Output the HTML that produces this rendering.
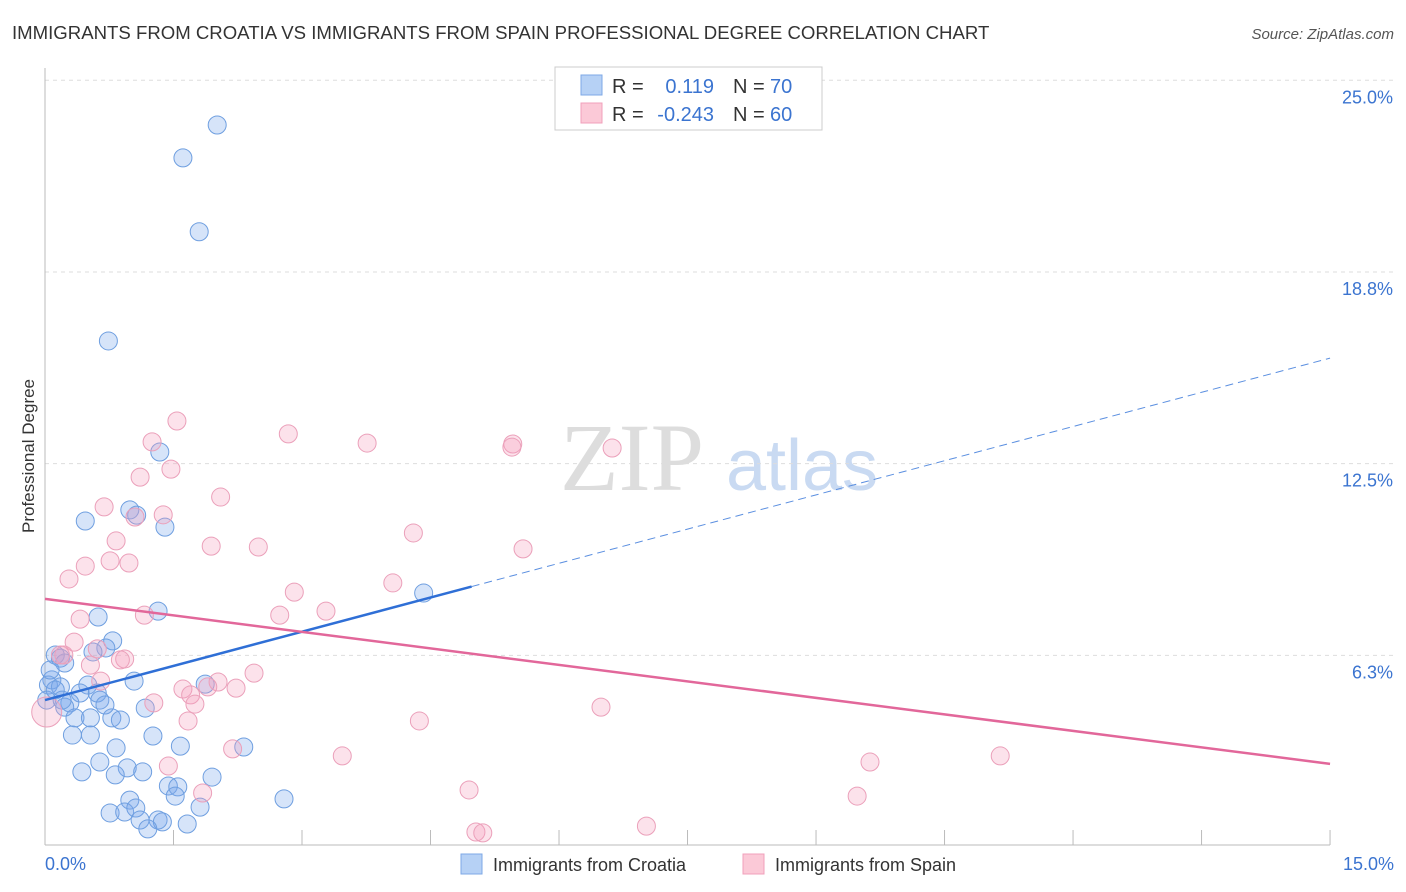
<!DOCTYPE html>
<html><head><meta charset="utf-8">
<style>
body{margin:0;background:#fff;font-family:"Liberation Sans",sans-serif;}
svg{display:block}
</style></head>
<body>
<svg id="chart" width="1406" height="892" xmlns="http://www.w3.org/2000/svg">
<text x="12" y="39" font-size="18.6" fill="#333">IMMIGRANTS FROM CROATIA VS IMMIGRANTS FROM SPAIN PROFESSIONAL DEGREE CORRELATION CHART</text>
<text x="1394" y="39" font-size="15" fill="#555" font-style="italic" text-anchor="end">Source: ZipAtlas.com</text>
<text x="34" y="456" font-size="17" fill="#333" text-anchor="middle" transform="rotate(-90 34 456)">Professional Degree</text>
<g>
<text x="632" y="490" font-size="96" font-family="Liberation Serif,serif" fill="#ddd" text-anchor="middle">ZIP</text>
<text x="802" y="490" font-size="72" fill="#c9daf2" text-anchor="middle">atlas</text>
</g>
<g id="grid"></g>
<g id="axes"></g>
<g id="marks"></g>
<g>
<rect x="555" y="67" width="267" height="63" fill="#fff" stroke="#ccc"/>
<rect x="581" y="75" width="21" height="20" fill="#b6d1f5" stroke="#7ea8e6"/>
<rect x="581" y="103" width="21" height="20" fill="#fbc9d7" stroke="#f0a0bb"/>
<text x="612" y="93" font-size="20" fill="#333">R =</text>
<text x="714" y="93" font-size="20" fill="#3b74d0" text-anchor="end">0.119</text>
<text x="733" y="93" font-size="20" fill="#333">N =</text>
<text x="770" y="93" font-size="20" fill="#3b74d0">70</text>
<text x="612" y="121" font-size="20" fill="#333">R =</text>
<text x="714" y="121" font-size="20" fill="#3b74d0" text-anchor="end">-0.243</text>
<text x="733" y="121" font-size="20" fill="#333">N =</text>
<text x="770" y="121" font-size="20" fill="#3b74d0">60</text>
</g>
<g>
<rect x="461" y="854" width="21" height="20" fill="#b6d1f5" stroke="#7ea8e6"/>
<text x="493" y="871" font-size="18" fill="#333">Immigrants from Croatia</text>
<rect x="743" y="854" width="21" height="20" fill="#fbc9d7" stroke="#f0a0bb"/>
<text x="775" y="871" font-size="18" fill="#333">Immigrants from Spain</text>
</g>
</svg>
<script>
const yTicks=[6.25,12.5,18.75,25];
const yTickLabels=["6.3%","12.5%","18.8%","25.0%"];
const xTicks=[0,1.5,3,4.5,6,7.5,9,10.5,12,13.5,15];
const blueX=[2.01,1.61,1.80,0.74,1.34,0.47,0.99,1.07,1.40,4.42,1.32,0.62,0.79,0.71,0.56,0.12,0.18,0.23,0.08,1.04,0.04,0.18,0.50,1.87,0.41,0.61,0.64,0.29,0.23,1.17,0.35,0.53,0.78,0.88,0.32,0.53,1.26,1.58,2.32,0.83,0.64,0.96,0.43,1.14,0.82,1.95,1.44,1.55,1.52,0.99,2.79,1.81,0.76,0.93,1.06,1.11,1.32,1.37,1.20,1.66,0.06,0.02,0.12,0.20,0.70];
const blueY=[23.54,22.47,20.06,16.50,12.88,10.63,10.99,10.82,10.43,8.28,7.69,7.50,6.72,6.49,6.36,6.26,6.16,6.00,5.45,5.41,5.28,5.22,5.28,5.31,5.02,5.02,4.79,4.70,4.56,4.53,4.21,4.21,4.21,4.14,3.65,3.65,3.62,3.29,3.26,3.23,2.77,2.58,2.45,2.45,2.35,2.28,1.99,1.96,1.66,1.53,1.57,1.30,1.11,1.14,1.27,0.88,0.88,0.82,0.59,0.75,5.77,4.79,5.12,4.79,4.63];
const pinkX=[1.54,2.84,3.76,1.25,5.46,5.45,6.62,1.47,1.11,2.05,0.69,1.38,1.05,4.30,0.83,1.94,2.49,5.58,0.47,0.76,0.98,0.28,2.91,4.06,2.74,3.28,1.16,0.41,0.34,0.61,0.22,0.93,0.88,0.53,2.44,0.65,2.02,1.61,1.70,2.23,1.90,1.27,1.75,6.49,0.02,1.67,4.37,2.19,3.47,1.44,9.63,11.15,1.84,4.95,9.48,5.03,5.11,7.02,0.18];
const pinkY=[13.89,13.47,13.17,13.21,13.14,13.04,13.01,12.32,12.06,11.41,11.09,10.83,10.76,10.24,9.98,9.81,9.78,9.72,9.16,9.33,9.26,8.74,8.31,8.61,7.56,7.69,7.56,7.43,6.68,6.46,6.26,6.13,6.10,5.93,5.67,5.41,5.38,5.15,4.96,5.18,5.22,4.70,4.66,4.56,4.40,4.11,4.11,3.20,2.97,2.64,2.77,2.97,1.76,1.86,1.66,0.49,0.46,0.68,6.26];
const blueTrend=[4.79,15.94];
const blueSolidEnd=4.98;
const pinkTrend=[8.09,2.71];

const NS="http://www.w3.org/2000/svg";
const X=v=>45+v*85.67;
const Y=v=>847-v*30.67;
function mk(parent,tag,attrs){const e=document.createElementNS(NS,tag);for(const k in attrs)e.setAttribute(k,attrs[k]);document.getElementById(parent).appendChild(e);return e;}
yTicks.forEach((t,i)=>{
  const l=mk('grid','line',{x1:45,x2:1394,y1:Y(t),y2:Y(t),stroke:'#ddd','stroke-dasharray':'4,4'});
  
  
  const tx=mk('grid','text',{x:1393,y:Y(t)+23,'font-size':18,fill:'#3b74d0','text-anchor':'end'});
  tx.textContent=yTickLabels[i];
  
  
});
const ya=mk('axes','line',{x1:45,x2:45,y1:68,y2:845,stroke:'#bbb'});


const xa=mk('axes','line',{x1:45,x2:1330,y1:845,y2:845,stroke:'#bbb'});


xTicks.forEach(t=>{
  const l=mk('axes','line',{x1:X(t),x2:X(t),y1:830,y2:845,stroke:'#bbb'});
  
  
});
const xl0=mk('axes','text',{x:45,y:870,'font-size':18,fill:'#3b74d0'});xl0.textContent='0.0%';


const xl1=mk('axes','text',{x:1394,y:870,'font-size':18,fill:'#3b74d0','text-anchor':'end'});xl1.textContent='15.0%';


blueX.forEach((x,i)=>{
  const c=mk('marks','circle',{cx:X(x),cy:Y(blueY[i]),r:9,fill:'rgba(120,165,235,0.3)',stroke:'#6f9fe0','stroke-width':1});
  
  
});
pinkX.forEach((x,i)=>{
  const c=mk('marks','circle',{cx:X(x),cy:Y(pinkY[i]),r:i==44?15:9,fill:'rgba(245,160,190,0.3)',stroke:'#eba0ba','stroke-width':1});
  
  
});
const bAt=v=>blueTrend[0]+(blueTrend[1]-blueTrend[0])*v/15;
const bs=mk('marks','line',{x1:X(0),y1:Y(bAt(0)),x2:X(blueSolidEnd),y2:Y(bAt(blueSolidEnd)),stroke:'#2f6fd6','stroke-width':2.5});


const bd=mk('marks','line',{x1:X(blueSolidEnd),y1:Y(bAt(blueSolidEnd)),x2:X(15),y2:Y(bAt(15)),stroke:'#5b8fe0','stroke-width':1,'stroke-dasharray':'8,5'});


const pl=mk('marks','line',{x1:X(0),y1:Y(pinkTrend[0]),x2:X(15),y2:Y(pinkTrend[1]),stroke:'#e2679a','stroke-width':2.5});


</script>
</body></html>
